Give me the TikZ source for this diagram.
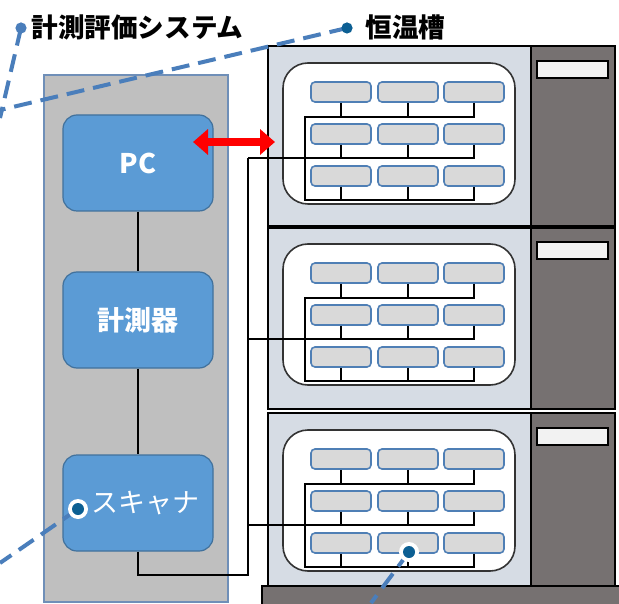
\documentclass[tikz,border=0pt]{standalone}
\usepackage{fontspec}
\newfontfamily\jpfont{Noto Sans CJK JP}
\usetikzlibrary{arrows.meta}

\definecolor{panelgray}{HTML}{BFBFBF}
\definecolor{paneledge}{HTML}{6F8FB8}
\definecolor{boxblue}{HTML}{5B9BD5}
\definecolor{boxedge}{HTML}{41719C}
\definecolor{chamberfill}{HTML}{D6DCE4}
\definecolor{darkpanel}{HTML}{767171}
\definecolor{slotfill}{HTML}{F2F2F2}
\definecolor{sensorfill}{HTML}{D9D9D9}
\definecolor{sensoredge}{HTML}{4F7FB5}
\definecolor{dashblue}{HTML}{4A7EBB}
\definecolor{dotblue}{HTML}{0C5F93}

\tikzset{
  unit/.style={draw=boxedge, fill=boxblue, line width=0.6pt, rounded corners=7pt,
    minimum width=75pt, minimum height=48pt, text=white, font=\jpfont\fontsize{13.5}{15}\selectfont},
  sensor/.style={draw=sensoredge, fill=sensorfill, line width=0.8pt, rounded corners=2pt,
    minimum width=30pt, minimum height=10pt, inner sep=0pt},
  wire/.style={line width=0.6pt, black},
  callout/.style={dashblue, line width=2pt, dash pattern=on 9pt off 4.5pt},
  title/.style={font=\jpfont\bfseries\fontsize{13.3}{15}\selectfont, anchor=west, inner sep=0pt}
}

\begin{document}
\begin{tikzpicture}[x=0.5pt, y=-0.5pt]

% Frame
\useasboundingbox (0,0) rectangle (619,603);
\clip (0,0) rectangle (619,603);

% Measurement system panel
\draw[fill=panelgray, draw=paneledge, line width=0.6pt] (44,75) rectangle (228,602);

% Units
\node[unit, font=\jpfont\bfseries\fontsize{13.5}{15}\selectfont] (pc) at (138,163) {\raisebox{-1.5pt}{PC}};
\node[unit, font=\jpfont\bfseries\fontsize{13.5}{15}\selectfont] (meas) at (138,320) {\raisebox{-1pt}{計測器}};
\node[unit] (scan) at (138,503) {\hspace*{7pt}\raisebox{-1pt}{スキャナ}};

\draw[wire] (pc) -- (meas);
\draw[wire] (meas) -- (scan);

% Base of the chambers
\draw[fill=darkpanel, line width=0.8pt] (262,586) rectangle (630,612);

% Chambers
\foreach \n/\t/\h in {1/46/181, 2/227/182, 3/413/173} {
  \draw[fill=chamberfill, line width=0.9pt] (268,\t) rectangle (531,\t+\h);
  \draw[fill=darkpanel, line width=0.9pt] (531,\t) rectangle (615,\t+\h);
  \draw[fill=slotfill, line width=0.9pt] (537,\t+15) rectangle (608,\t+32);
  \draw[fill=white, draw=black!80, line width=0.8pt, rounded corners=12.5pt]
    (283,\t+17) rectangle (515,\t+158);
  % sensors
  \foreach \r/\dy in {1/46, 2/88, 3/130}
    \foreach \c/\sx in {1/341, 2/408, 3/474}
      \node[sensor] (s-\n-\r-\c) at (\sx,\t+\dy) {};
  % wiring
  \coordinate (b1-\n) at (305,\t+71);
  \coordinate (b3-\n) at (305,\t+154);
  \coordinate (tap-\n) at (248,\t+112);
  \draw[wire] (s-\n-1-3.south) -- (s-\n-1-3.south |- b1-\n) -- (b1-\n)
    -- (b3-\n) -- (s-\n-3-3.south |- b3-\n) -- (s-\n-3-3.south);
  \draw[wire] (tap-\n) -- (s-\n-2-3.south |- tap-\n) -- (s-\n-2-3.south);
  \foreach \c in {1,2} {
    \draw[wire] (s-\n-1-\c.south) -- (s-\n-1-\c.south |- b1-\n);
    \draw[wire] (s-\n-2-\c.south) -- (s-\n-2-\c.south |- tap-\n);
    \draw[wire] (s-\n-3-\c.south) -- (s-\n-3-\c.south |- b3-\n);
  }
}
\draw[line width=1.6pt] (268,227) -- (615,227);

% Scanner to chambers
\coordinate (wireB) at (248,575);
\draw[wire] (scan.south) |- (wireB) -- (tap-1);

% Link PC <-> chamber
\coordinate (linkL) at (193,142);
\coordinate (linkR) at (275,142);
\draw[red, line width=4pt, {Triangle[length=7.5pt,width=12.5pt]}-{Triangle[length=7.5pt,width=12.5pt]}]
  (linkL) -- (linkR);

% Callouts
\coordinate (sysDot) at (21,28);
\coordinate (bathDot) at (347,28);
\coordinate (scanDot) at (78,509);
\coordinate (probeDot) at (409,552);
\draw[callout] (sysDot) -- (0,118);
\draw[callout] (bathDot) -- (0,110);
\draw[callout] (scanDot) -- (0,563);
\draw[callout] (probeDot) -- (371,603);

\fill[dashblue] (sysDot) circle[radius=2.8pt];
\fill[dotblue] (bathDot) circle[radius=2.8pt];
\fill[white] (scanDot) circle[radius=5pt];
\fill[dotblue] (scanDot) circle[radius=3pt];
\fill[white] (probeDot) circle[radius=5pt];
\fill[dotblue] (probeDot) circle[radius=3pt];

% Labels
\node[title] (sysLabel) at (31,27) {計測評価システム};
\node[title] (bathLabel) at (365,27) {恒温槽};

\end{tikzpicture}
\end{document}
